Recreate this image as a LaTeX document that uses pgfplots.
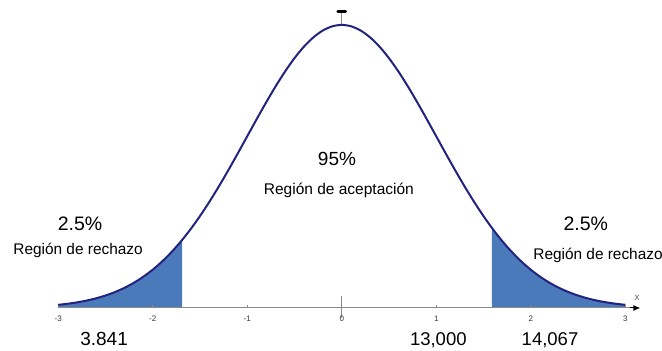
\documentclass[border=0pt]{standalone}
\usepackage{pgfplots}
\pgfplotsset{compat=1.18}
\usepackage{fontspec}
\setmainfont{Liberation Sans}
\usetikzlibrary{arrows.meta}

\definecolor{curva}{HTML}{23237F}
\definecolor{relleno}{HTML}{4A7AB9}
\definecolor{eje}{HTML}{8A8A8A}

\begin{document}
\begin{tikzpicture}
\begin{axis}[
    width=662pt, height=351pt,
    scale only axis,
    axis lines=none,
    xmin=-3.616, xmax=3.389,
    ymin=-0.152, ymax=1.088,
    clip=false,
]
% marco invisible: fija el tamaño de la imagen
\path (rel axis cs:0,0) rectangle (rel axis cs:1,1);

% colas sombreadas
\addplot[fill=relleno, draw=none] coordinates {
    (-3,0) (-3,0.01111) (-2.9,0.01492) (-2.8,0.01984) (-2.7,0.02612)
    (-2.6,0.03405) (-2.5,0.04394) (-2.4,0.05613) (-2.3,0.07101)
    (-2.2,0.08892) (-2.1,0.11025) (-2.0,0.13534) (-1.9,0.16447)
    (-1.8,0.19790) (-1.7,0.23575) (-1.69,0.23979) (-1.69,0)
} -- cycle;
\addplot[fill=relleno, draw=none] coordinates {
    (1.59,0) (1.59,0.28253) (1.6,0.27804) (1.7,0.23575) (1.8,0.19790)
    (1.9,0.16447) (2.0,0.13534) (2.1,0.11025) (2.2,0.08892)
    (2.3,0.07101) (2.4,0.05613) (2.5,0.04394) (2.6,0.03405)
    (2.7,0.02612) (2.8,0.01984) (2.9,0.01492) (3,0.01111) (3,0)
} -- cycle;

% eje x
\addplot[eje, line width=1pt] coordinates {(-3,0) (3.1,0)};
\addplot[black, line width=1pt, -{Latex[length=7pt,width=6pt]}] coordinates {(3.05,0) (3.16,0)};
\addplot[eje, line width=0.8pt] coordinates {(0,-0.035) (0,0.042)};
\foreach \t in {-3,-2,-1,1,2,3} {
    \edef\temp{\noexpand\addplot[eje, line width=0.6pt] coordinates {(\t,0) (\t,0.012)};}
    \temp
}
% eje y (parte superior)
\addplot[eje, line width=0.8pt] coordinates {(0,1) (0,1.046)};
\addplot[black, line width=3pt, line cap=round] coordinates {(-0.04,1.048) (0.04,1.048)};

% curva normal
\addplot[curva, line width=2pt, smooth] coordinates {
    (-3.0,0.01111) (-2.9,0.01492) (-2.8,0.01984) (-2.7,0.02612)
    (-2.6,0.03405) (-2.5,0.04394) (-2.4,0.05613) (-2.3,0.07101)
    (-2.2,0.08892) (-2.1,0.11025) (-2.0,0.13534) (-1.9,0.16447)
    (-1.8,0.19790) (-1.7,0.23575) (-1.6,0.27804) (-1.5,0.32465)
    (-1.4,0.37531) (-1.3,0.42956) (-1.2,0.48675) (-1.1,0.54607)
    (-1.0,0.60653) (-0.9,0.66698) (-0.8,0.72615) (-0.7,0.78270)
    (-0.6,0.83527) (-0.5,0.88250) (-0.4,0.92312) (-0.3,0.95600)
    (-0.2,0.98020) (-0.1,0.99501) (0,1)
    (0.1,0.99501) (0.2,0.98020) (0.3,0.95600) (0.4,0.92312)
    (0.5,0.88250) (0.6,0.83527) (0.7,0.78270) (0.8,0.72615)
    (0.9,0.66698) (1.0,0.60653) (1.1,0.54607) (1.2,0.48675)
    (1.3,0.42956) (1.4,0.37531) (1.5,0.32465) (1.6,0.27804)
    (1.7,0.23575) (1.8,0.19790) (1.9,0.16447) (2.0,0.13534)
    (2.1,0.11025) (2.2,0.08892) (2.3,0.07101) (2.4,0.05613)
    (2.5,0.04394) (2.6,0.03405) (2.7,0.02612) (2.8,0.01984)
    (2.9,0.01492) (3.0,0.01111)
};

% etiquetas del eje
\foreach \t in {-3,-2,-1,0,1,2,3} {
    \edef\temp{\noexpand\node[font=\noexpand\fontsize{8}{9}\noexpand\selectfont, text=black!80] at (\t,-0.037) {\t};}
    \temp
}
\node[font=\fontsize{10}{11}\selectfont, text=black!60] at (3.125,0.034) {x};

% textos
\node[font=\fontsize{19}{22}\selectfont] at (-0.05,0.5265) {95\%};
\node[font=\fontsize{15.5}{18}\selectfont] at (-0.03,0.417) {Región de aceptación};
\node[font=\fontsize{19.5}{22}\selectfont] at (-2.769,0.297) {2.5\%};
\node[font=\fontsize{15.4}{18}\selectfont] at (-2.79,0.205) {Región de rechazo};
\node[font=\fontsize{19.5}{22}\selectfont] at (2.583,0.297) {2.5\%};
\node[font=\fontsize{15.4}{18}\selectfont, overlay] at (2.712,0.187) {Región de rechazo};
\node[font=\fontsize{19}{22}\selectfont] at (-2.515,-0.1095) {3.841};
\node[font=\fontsize{18.5}{22}\selectfont] at (1.022,-0.113) {13,000};
\node[font=\fontsize{18.5}{22}\selectfont] at (2.204,-0.113) {14,067};
\end{axis}
\end{tikzpicture}
\end{document}
